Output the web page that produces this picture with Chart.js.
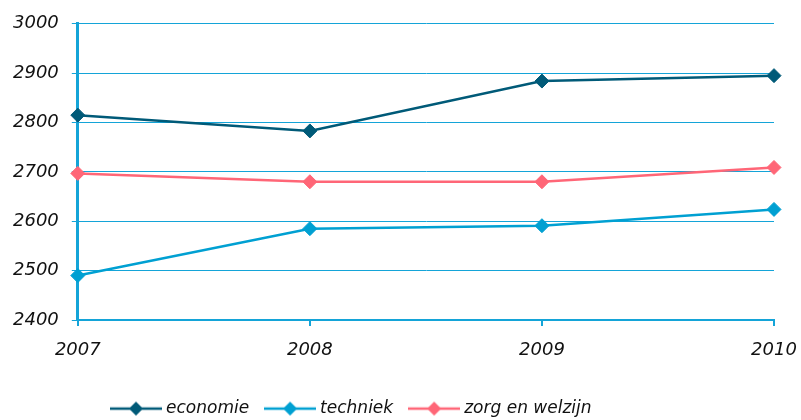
<!DOCTYPE html>
<html>
<head>
<meta charset="utf-8">
<script src="https://cdn.jsdelivr.net/npm/chart.js@4.4.1/dist/chart.umd.min.js"></script>
<style>
  html, body { margin: 0; padding: 0; background: #ffffff; }
  #wrap { width: 801px; height: 420px; position: relative; }
</style>
</head>
<body>
<div id="wrap"><canvas id="c" width="801" height="420"></canvas></div>
<script>
const categories = ['2007', '2008', '2009', '2010'];
const economie = [2815, 2783, 2884, 2895];
const techniek = [2490, 2585, 2591, 2624];
const zorgEnWelzijn = [2697, 2680, 2680, 2709];
const seriesNames = ['economie', 'techniek', 'zorg en welzijn'];
const yMin = 2400, yMax = 3000, yStep = 100;

const colEco = '#005A78';
const colTech = '#00A0D2';
const colZorg = '#FF6677';
const gridCol = '#14A4D8';
const FONT = '"DejaVu Sans", Verdana, sans-serif';

function legendIcon(color) {
  const c = document.createElement('canvas');
  c.width = 52; c.height = 18;
  const g = c.getContext('2d');
  g.strokeStyle = color; g.lineWidth = 2.5;
  g.beginPath(); g.moveTo(0, 9); g.lineTo(52, 9); g.stroke();
  g.fillStyle = color;
  g.beginPath(); g.moveTo(26 - 7, 9); g.lineTo(26, 2); g.lineTo(33, 9); g.lineTo(26, 16); g.closePath(); g.fill();
  return c;
}
const icons = [legendIcon(colEco), legendIcon(colTech), legendIcon(colZorg)];

const LEGEND_DX = 95;
const LEGEND_DY = 5;
const legendShift = {
  id: 'legendShift',
  afterLayout(chart) {
    const lg = chart.legend;
    lg.left += LEGEND_DX; lg.right += LEGEND_DX;
    lg.top += LEGEND_DY; lg.bottom += LEGEND_DY;
  }
};

function ds(label, data, color) {
  return {
    label, data,
    borderColor: color, backgroundColor: color,
    borderWidth: 2.5, tension: 0,
    pointStyle: 'rectRot', pointRadius: 7, pointHoverRadius: 7,
    pointBorderWidth: 1, pointBackgroundColor: color, pointBorderColor: color
  };
}

new Chart(document.getElementById('c'), {
  type: 'line',
  data: {
    labels: categories,
    datasets: [
      ds(seriesNames[0], economie, colEco),
      ds(seriesNames[1], techniek, colTech),
      ds(seriesNames[2], zorgEnWelzijn, colZorg)
    ]
  },
  plugins: [legendShift],
  options: {
    responsive: false,
    animation: false,
    devicePixelRatio: 1,
    layout: { padding: { left: 0, right: 0, top: 9.7, bottom: -2.1 } },
    plugins: {
      tooltip: { enabled: false },
      legend: {
        position: 'bottom',
        align: 'start',
        labels: {
          usePointStyle: true,
          pointStyleWidth: 43,
          padding: 19.5,
          color: '#111',
          font: { family: FONT, size: 17, style: 'italic' },
          generateLabels(chart) {
            const items = Chart.defaults.plugins.legend.labels.generateLabels(chart);
            items.forEach((it, i) => { it.pointStyle = icons[i]; });
            return items;
          }
        }
      }
    },
    scales: {
      x: {
        type: 'category',
        offset: false,
        afterFit(scale) { scale.paddingRight = 27; },
        grid: { display: true, drawOnChartArea: false, drawTicks: true, tickLength: 6, color: gridCol, lineWidth: 2 },
        border: { display: true, color: gridCol, width: 2 },
        ticks: { color: '#111', padding: 14, maxRotation: 0, font: { family: FONT, size: 18, style: 'italic' } }
      },
      y: {
        min: yMin, max: yMax,
        grid: { display: true, drawOnChartArea: true, drawTicks: true, tickLength: 6, color: gridCol, lineWidth: 1 },
        border: { display: true, color: gridCol, width: 3 },
        ticks: {
          stepSize: yStep, color: '#111', padding: 13,
          font: { family: FONT, size: 18, style: 'italic' },
          callback: (v) => String(v)
        }
      }
    }
  }
});
</script>
</body>
</html>
